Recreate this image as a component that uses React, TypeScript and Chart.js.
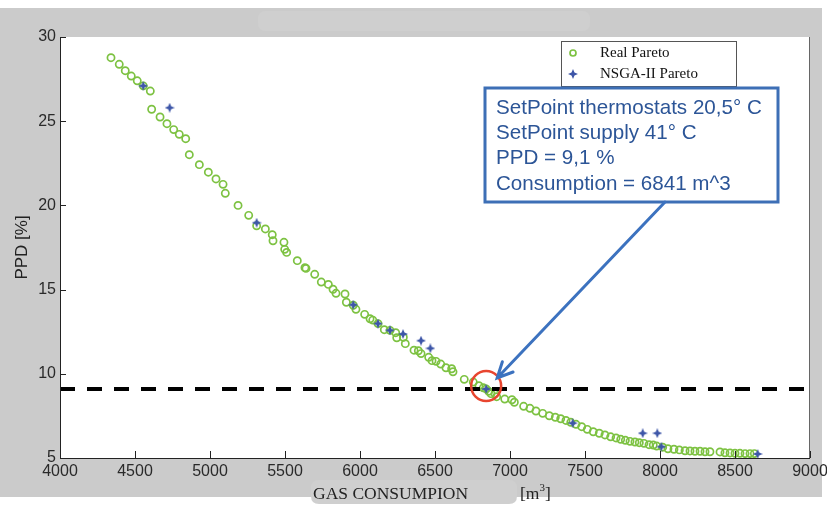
import { useEffect, useRef } from "react";
import { Chart, registerables } from "chart.js";

Chart.register(...registerables);

// Pareto front obtained from the full enumeration (gas consumption m3, PPD %)
const realGas = [
  4340, 4395, 4435, 4475, 4515, 4555, 4602, 4611, 4667, 4713, 4758, 4795, 4838, 4862, 4929, 4989,
  5040, 5087, 5102, 5187, 5258, 5311, 5369, 5415, 5420, 5493, 5498, 5511, 5582, 5633, 5640, 5698,
  5742, 5789, 5820, 5840, 5900, 5909, 5955, 5973, 6031, 6067, 6085, 6120, 6162, 6200, 6238, 6245,
  6289, 6302, 6360, 6389, 6407, 6458, 6480, 6507, 6538, 6573, 6611, 6620, 6695, 6755, 6793, 6822,
  6841, 6858, 6873, 6900, 6911, 6965, 7013, 7029, 7091, 7133, 7173, 7218, 7262, 7302, 7338, 7373,
  7405, 7440, 7478, 7515, 7555, 7595, 7633, 7671, 7707, 7738, 7769, 7800, 7833, 7862, 7893, 7927,
  7955, 7978, 8018, 8053, 8093, 8129, 8167, 8200, 8233, 8267, 8300, 8333, 8400, 8433, 8467, 8500,
  8533, 8567, 8600, 8629,
];
const realPpd = [
  28.77, 28.38, 28.0, 27.68, 27.4, 27.1, 26.79, 25.71, 25.25, 24.85, 24.5, 24.22, 23.96, 23.01, 22.42, 21.97,
  21.57, 21.25, 20.72, 20.0, 19.41, 18.79, 18.6, 18.26, 17.9, 17.81, 17.39, 17.21, 16.72, 16.3, 16.26, 15.91,
  15.45, 15.31, 15.02, 14.78, 14.74, 14.25, 14.07, 13.83, 13.53, 13.27, 13.19, 12.98, 12.62, 12.58, 12.44, 12.14,
  12.17, 11.79, 11.4, 11.37, 11.2, 10.98, 10.78, 10.74, 10.58, 10.36, 10.3, 10.12, 9.67, 9.51, 9.29, 9.17,
  9.1, 8.96, 8.82, 8.82, 8.64, 8.5, 8.46, 8.31, 8.07, 7.95, 7.79, 7.65, 7.51, 7.42, 7.33, 7.23,
  7.12, 7.0, 6.86, 6.7, 6.56, 6.47, 6.37, 6.26, 6.19, 6.11, 6.05, 5.99, 5.95, 5.91, 5.87, 5.79,
  5.77, 5.71, 5.64, 5.55, 5.52, 5.48, 5.43, 5.42, 5.4, 5.4, 5.37, 5.37, 5.36, 5.31, 5.3, 5.28,
  5.28, 5.26, 5.26, 5.26,
];

// Pareto front found by the genetic algorithm
const nsgaGas = [4555, 4731, 5311, 5955, 6120, 6200, 6287, 6407, 6469, 6841, 7418, 7885, 7982, 8009, 8651];
const nsgaPpd = [27.1, 25.8, 18.97, 14.1, 12.98, 12.58, 12.36, 11.97, 11.51, 9.1, 7.07, 6.47, 6.47, 5.67, 5.24];

// Comfort threshold and the chosen operating point
const ppdThreshold = 9.1;
const chosenGas = 6841;
const chosenPpd = 9.1;

const xTickValues = [4000, 4500, 5000, 5500, 6000, 6500, 7000, 7500, 8000, 8500, 9000];
const yTickValues = [5, 10, 15, 20, 25, 30];

const seriesNames = ["Real Pareto", "NSGA-II Pareto"];
const noteLines = [
  "SetPoint thermostats 20,5° C",
  "SetPoint supply 41° C",
  "PPD = 9,1 %",
  "Consumption = 6841 m^3",
];

const GREEN = "#7dc242";
const NAVY = "#3d56a8";
const NOTE_BLUE = "#3d6fb6";
const SERIF = '"Liberation Serif", "Times New Roman", serif';
const SANS = '"Liberation Sans", Arial, sans-serif';

function makeStar(color: string, size: number) {
  const c = document.createElement("canvas");
  c.width = size;
  c.height = size;
  const g = c.getContext("2d")!;
  const m = size / 2;
  const r = size / 2;
  const ri = r * 0.42;
  g.beginPath();
  for (let i = 0; i < 8; i++) {
    const ang = -Math.PI / 2 + (i * Math.PI) / 4;
    const rr = i % 2 === 0 ? r : ri;
    g.lineTo(m + rr * Math.cos(ang), m + rr * Math.sin(ang));
  }
  g.closePath();
  g.fillStyle = color;
  g.fill();
  return c;
}

function roundRect(ctx: CanvasRenderingContext2D, x: number, y: number, w: number, h: number, r: number) {
  ctx.beginPath();
  ctx.moveTo(x + r, y);
  ctx.lineTo(x + w - r, y);
  ctx.quadraticCurveTo(x + w, y, x + w, y + r);
  ctx.lineTo(x + w, y + h - r);
  ctx.quadraticCurveTo(x + w, y + h, x + w - r, y + h);
  ctx.lineTo(x + r, y + h);
  ctx.quadraticCurveTo(x, y + h, x, y + h - r);
  ctx.lineTo(x, y + r);
  ctx.quadraticCurveTo(x, y, x + r, y);
  ctx.closePath();
}

export default function App() {
  const canvasRef = useRef<HTMLCanvasElement | null>(null);

  useEffect(() => {
    document.body.style.margin = "0";
    const canvas = canvasRef.current;
    if (!canvas) return;
    const star = makeStar(NAVY, 10);

    const figurePlugin = {
      id: "figure",
      beforeDraw(chart: any) {
        const { ctx, chartArea: a, width, height } = chart;
        ctx.save();
        ctx.fillStyle = "#ffffff";
        ctx.fillRect(0, 0, width, height);
        ctx.fillStyle = "#cbcbcb";
        ctx.fillRect(0, 8, 822, 489);
        ctx.fillStyle = "#cfcfcf";
        roundRect(ctx, 258, 11, 332, 20, 8);
        ctx.fill();
        roundRect(ctx, 311, 480, 206, 24, 8);
        ctx.fill();
        ctx.fillStyle = "#ffffff";
        ctx.fillRect(a.left, a.top, a.right - a.left, a.bottom - a.top);
        ctx.restore();
      },
      afterDraw(chart: any) {
        const { ctx, chartArea: a } = chart;
        const xs = chart.scales.x;
        const ys = chart.scales.y;
        ctx.save();

        // axes frame
        ctx.lineWidth = 1;
        ctx.strokeStyle = "#222";
        ctx.beginPath();
        ctx.moveTo(a.left + 0.5, a.top);
        ctx.lineTo(a.left + 0.5, a.bottom + 0.5);
        ctx.lineTo(a.right, a.bottom + 0.5);
        ctx.stroke();
        ctx.strokeStyle = "#666";
        ctx.beginPath();
        ctx.moveTo(a.right - 0.5, a.top);
        ctx.lineTo(a.right - 0.5, a.bottom);
        ctx.stroke();

        // inward tick marks
        ctx.strokeStyle = "#222";
        ctx.beginPath();
        for (const v of xTickValues) {
          const px = Math.round(xs.getPixelForValue(v)) + 0.5;
          ctx.moveTo(px, a.bottom);
          ctx.lineTo(px, a.bottom - 7);
        }
        for (const v of yTickValues) {
          const py = Math.round(ys.getPixelForValue(v)) + 0.5;
          ctx.moveTo(a.left, py);
          ctx.lineTo(a.left + 6, py);
        }
        ctx.stroke();

        // axis titles
        ctx.fillStyle = "#222";
        ctx.font = `17px ${SANS}`;
        ctx.textAlign = "center";
        ctx.textBaseline = "middle";
        ctx.save();
        ctx.translate(22, (a.top + a.bottom) / 2);
        ctx.rotate(-Math.PI / 2);
        ctx.fillText("PPD [%]", 0, 0);
        ctx.restore();

        ctx.textAlign = "left";
        ctx.textBaseline = "alphabetic";
        ctx.font = `17.5px ${SERIF}`;
        ctx.fillText("GAS CONSUMPION", 313, 499);
        ctx.fillText("[m", 520, 499);
        const wm = ctx.measureText("[m").width;
        ctx.font = `11px ${SERIF}`;
        ctx.fillText("3", 520 + wm, 491);
        const w3 = ctx.measureText("3").width;
        ctx.font = `17.5px ${SERIF}`;
        ctx.fillText("]", 520 + wm + w3, 499);

        // legend
        const lx = 561, ly = 41, lw = 175, lh = 45;
        ctx.fillStyle = "#ffffff";
        ctx.fillRect(lx, ly, lw, lh);
        ctx.strokeStyle = "#555";
        ctx.lineWidth = 1;
        ctx.strokeRect(lx + 0.5, ly + 0.5, lw, lh);
        ctx.strokeStyle = GREEN;
        ctx.lineWidth = 1.7;
        ctx.beginPath();
        ctx.arc(lx + 12, ly + 12, 3, 0, Math.PI * 2);
        ctx.stroke();
        ctx.drawImage(star, lx + 12 - 5, ly + 33 - 5);
        ctx.fillStyle = "#111";
        ctx.font = `15px ${SERIF}`;
        ctx.textBaseline = "middle";
        ctx.fillText(seriesNames[0], lx + 39, ly + 12);
        ctx.fillText(seriesNames[1], lx + 39, ly + 33);

        // highlighted operating point
        const cx = xs.getPixelForValue(chosenGas);
        const cy = ys.getPixelForValue(chosenPpd);
        ctx.strokeStyle = "#e8452f";
        ctx.lineWidth = 2.5;
        ctx.beginPath();
        ctx.arc(cx, cy - 3, 15, 0, Math.PI * 2);
        ctx.stroke();

        // note box
        const bx = 485, by = 88, bw = 293, bh = 114;
        ctx.fillStyle = "#ffffff";
        ctx.fillRect(bx, by, bw, bh);
        ctx.strokeStyle = NOTE_BLUE;
        ctx.lineWidth = 3;
        ctx.strokeRect(bx, by, bw, bh);
        ctx.fillStyle = "#2c5597";
        ctx.font = `20.6px ${SANS}`;
        noteLines.forEach((t, i) => ctx.fillText(t, bx + 11, by + 20 + i * 25.3));

        // arrow from the box to the point
        const sx = bx + 180, sy = by + bh;
        const ex = cx + 11, ey = cy - 11;
        ctx.strokeStyle = "#3c72bf";
        ctx.lineWidth = 3;
        ctx.lineCap = "round";
        ctx.beginPath();
        ctx.moveTo(sx, sy);
        ctx.lineTo(ex, ey);
        const ang = Math.atan2(ey - sy, ex - sx);
        const hl = 17;
        ctx.moveTo(ex - hl * Math.cos(ang - 0.45), ey - hl * Math.sin(ang - 0.45));
        ctx.lineTo(ex, ey);
        ctx.lineTo(ex - hl * Math.cos(ang + 0.45), ey - hl * Math.sin(ang + 0.45));
        ctx.stroke();

        ctx.restore();
      },
    };

    const chart = new Chart(canvas, {
      type: "scatter",
      data: {
        datasets: [
          {
            label: seriesNames[1],
            data: nsgaGas.map((x, i) => ({ x, y: nsgaPpd[i] })),
            pointStyle: star as any,
            pointRadius: 5,
            order: 0,
          },
          {
            label: "threshold",
            data: [
              { x: xTickValues[0], y: ppdThreshold },
              { x: xTickValues[xTickValues.length - 1], y: ppdThreshold },
            ],
            showLine: true,
            borderColor: "#000",
            borderWidth: 4,
            borderDash: [15, 12],
            pointRadius: 0,
            order: 1,
          },
          {
            label: seriesNames[0],
            data: realGas.map((x, i) => ({ x, y: realPpd[i] })),
            pointStyle: "circle",
            pointRadius: 3.6,
            borderWidth: 1.7,
            borderColor: GREEN,
            backgroundColor: "rgba(0,0,0,0)",
            order: 2,
          },
        ],
      },
      options: {
        responsive: false,
        animation: false,
        layout: { padding: { left: 0, top: 37, right: 17, bottom: 0 } },
        plugins: { legend: { display: false }, tooltip: { enabled: false } },
        scales: {
          x: {
            type: "linear",
            min: 4000,
            max: 9000,
            grid: { display: false, drawTicks: false },
            border: { display: false },
            afterBuildTicks: (s: any) => {
              s.ticks = xTickValues.map((v) => ({ value: v }));
            },
            afterFit: (s: any) => {
              s.height = 47;
              s.paddingLeft = 0;
              s.paddingRight = 0;
            },
            ticks: {
              maxRotation: 0,
              autoSkip: false,
              padding: 4,
              color: "#2a2a2a",
              font: { family: SANS, size: 16 },
              callback: (v: any) => String(v),
            },
          },
          y: {
            type: "linear",
            min: 5,
            max: 30,
            grid: { display: false, drawTicks: false },
            border: { display: false },
            afterBuildTicks: (s: any) => {
              s.ticks = yTickValues.map((v) => ({ value: v }));
            },
            afterFit: (s: any) => {
              s.width = 60;
              s.paddingTop = 0;
              s.paddingBottom = 0;
            },
            ticks: {
              autoSkip: false,
              padding: 4,
              color: "#2a2a2a",
              font: { family: SANS, size: 16 },
              callback: (v: any) => String(v),
            },
          },
        },
      },
      plugins: [figurePlugin],
    });

    return () => chart.destroy();
  }, []);

  return <canvas ref={canvasRef} width={827} height={505} style={{ display: "block" }} />;
}
